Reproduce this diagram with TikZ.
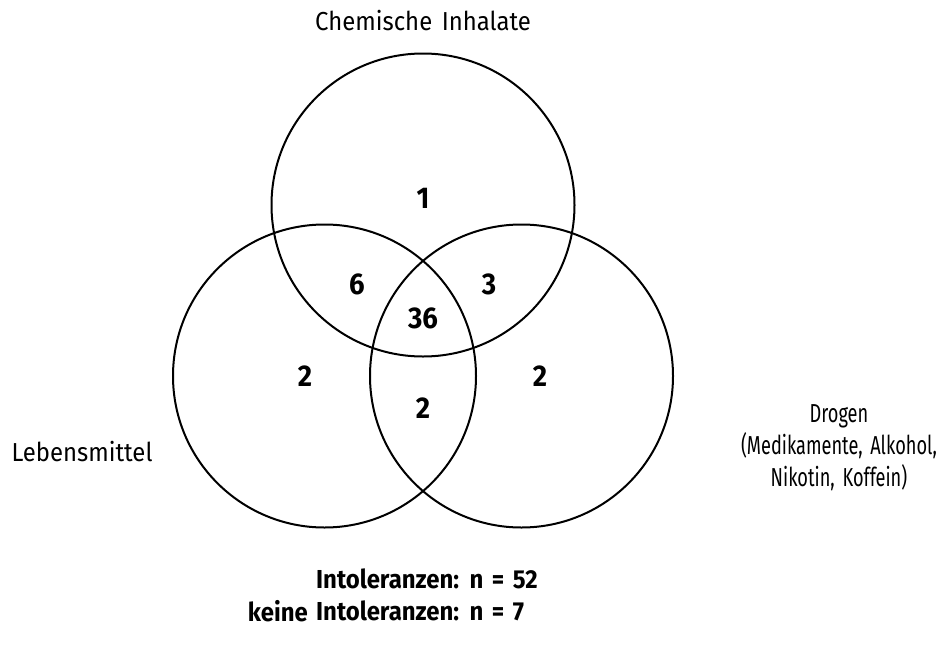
\documentclass[tikz,border=0pt]{standalone}
\usepackage{fontspec}
\setmainfont{Fira Sans}[FakeStretch=0.92,WordSpace=1.5]
\newfontfamily\narrowfont{Fira Sans}[FakeStretch=0.7,WordSpace=1.6]
\begin{document}
\begin{tikzpicture}[x=1pt,y=-1pt,
  ring/.style={draw=black,line width=2pt},
  lbl/.style={font=\fontsize{26}{32}\selectfont,align=center,inner sep=0pt},
  num/.style={font=\fontsize{30}{32}\selectfont\bfseries,inner sep=0pt},
  tot/.style={font=\fontsize{26}{32}\selectfont\bfseries,inner sep=0pt,anchor=west}]
\useasboundingbox (0,0) rectangle (940,654);
\node[ring,circle,minimum size=303pt,inner sep=0pt] (c) at (423,205) {};
\node[ring,circle,minimum size=303pt,inner sep=0pt] (l) at (324.5,376) {};
\node[ring,circle,minimum size=303pt,inner sep=0pt] (d) at (521.5,376) {};
\node[lbl] (tc) at (423,21) {Chemische Inhalate};
\node[lbl] (tl) at (82,452) {Lebensmittel};
\node[lbl,font=\fontsize{26}{32}\narrowfont] (td) at (839,448) {Drogen\\(Medikamente, Alkohol,\\Nikotin, Koffein)};
\node[num] (n1) at (423,198) {1};
\node[num] (n6) at (357,284) {6};
\node[num] (n3) at (489,284) {3};
\node[num] (n36) at (423,318) {36};
\node[num] (n2l) at (305,376) {2};
\node[num] (n2m) at (423,408) {2};
\node[num] (n2r) at (540,376) {2};
\node[tot] (t1) at (316,579) {Intoleranzen: n = 52};
\node[tot] (t3) at (316,611) {Intoleranzen: n = 7};
\node[tot,anchor=east,xshift=-8pt] (t2) at (t3.west) {keine};
\end{tikzpicture}
\end{document}
